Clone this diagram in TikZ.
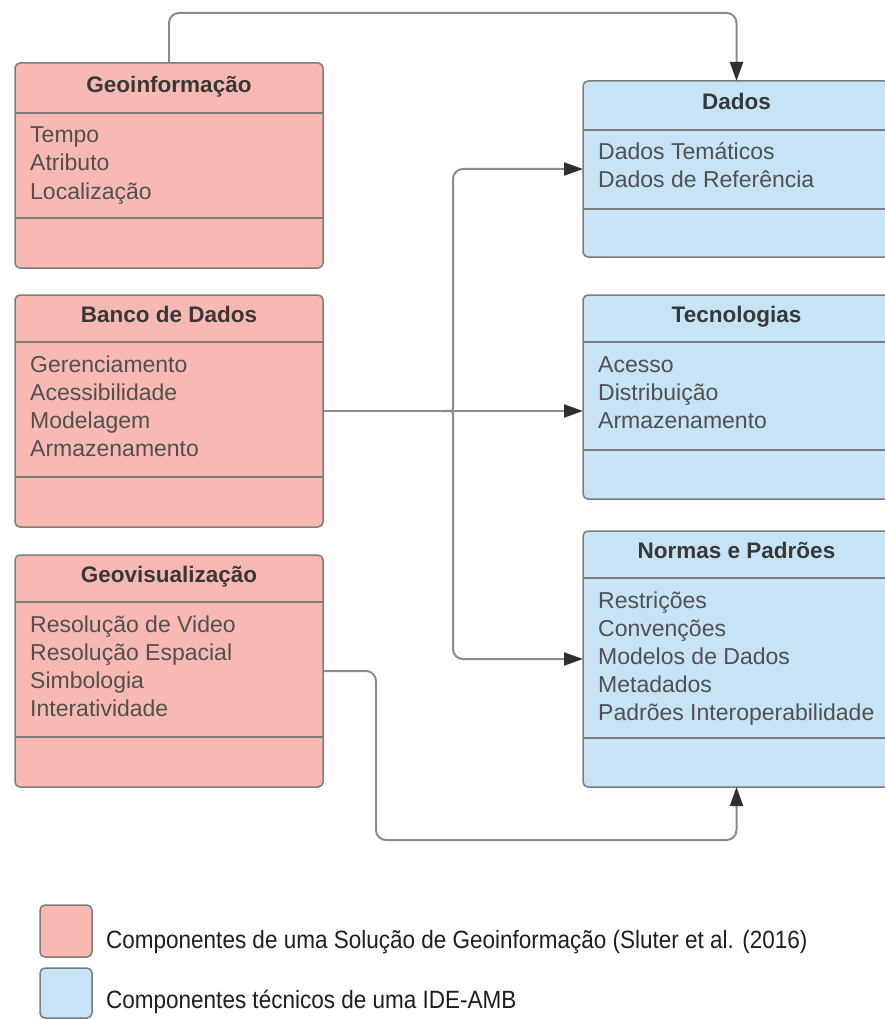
\documentclass[tikz,border=0pt]{standalone}
\usepackage{fontspec}
\setmainfont{Liberation Sans}
\newfontfamily\legendfont{Liberation Sans}[FakeStretch=0.9]
\usetikzlibrary{arrows.meta,calc}

\definecolor{geofill}{HTML}{F8B9B2}
\definecolor{idefill}{HTML}{C6E4F5}
\definecolor{edgeink}{HTML}{7C7C7C}
\definecolor{wireink}{HTML}{8A8A8A}
\definecolor{tipink}{HTML}{2E2E2E}
\definecolor{titleink}{HTML}{383838}
\definecolor{bodyink}{HTML}{505050}
\definecolor{legendink}{HTML}{1E1E1E}

\tikzset{
  classbox/.style={draw=edgeink, line width=1.5pt, rounded corners=5pt,
    inner sep=0pt, outer sep=0pt},
  geoclass/.style={fill=geofill},
  ideclass/.style={fill=idefill},
  rule/.style={draw=edgeink, line width=1.5pt},
  classtitle/.style={anchor=base, inner sep=0pt, text=titleink,
    font=\fontsize{22.5}{27}\selectfont\bfseries},
  classbody/.style={anchor=base west, inner sep=0pt, text=bodyink,
    font=\fontsize{23}{28}\selectfont},
  conn/.style={draw=wireink, line width=2pt, rounded corners=10pt},
  tipto/.style={-{Triangle[length=19pt,width=13pt,color=tipink,fill=tipink]}},
  swatch/.style={draw=edgeink, line width=1.5pt, rounded corners=5pt,
    minimum width=52pt, inner sep=0pt, outer sep=0pt},
  legendtext/.style={anchor=base west, inner sep=0pt, text=legendink,
    font=\legendfont\fontsize{25}{28}\selectfont},
}

% #1 name, #2 fill style, #3 top-left corner, #4 width, #5 height,
% #6 header height, #7 offset of the lower rule, #8 title, #9 items
\newcommand\umlclass[9]{%
  \node[classbox,#2,minimum width=#4,minimum height=#5,anchor=north west] (#1) at #3 {};
  \draw[rule] ([yshift=-#6]#1.north west) -- ([yshift=-#6]#1.north east);
  \draw[rule] ([yshift=-#7]#1.north west) -- ([yshift=-#7]#1.north east);
  \node[classtitle] (#1-title) at ([yshift=-#6+20pt]#1.north) {#8};
  \node[classbody] (#1-items) at ([xshift=15pt,yshift=-#6-30pt]#1.north west)
    {\begin{tabular}[t]{@{}l@{}}#9\end{tabular}};
}

\begin{document}
\begin{tikzpicture}[x=1pt,y=-1pt]
\useasboundingbox (0,0) rectangle (885,1019);

% left column: components of a geoinformation solution
\umlclass{geo}{geoclass}{(15,63)}{308pt}{205pt}{50pt}{155pt}{Geoinformação}
  {Tempo\\Atributo\\Localização}
\umlclass{banco}{geoclass}{(15,295)}{308pt}{232pt}{47pt}{182pt}{Banco de Dados}
  {Gerenciamento\\Acessibilidade\\Modelagem\\Armazenamento}
\umlclass{geovis}{geoclass}{(15,555)}{308pt}{232pt}{47pt}{182pt}{Geovisualização}
  {Resolução de Video\\Resolução Espacial\\Simbologia\\Interatividade}

% right column: technical components of the SDI
\umlclass{dados}{ideclass}{(583,81)}{307pt}{176pt}{49pt}{128pt}{Dados}
  {Dados Temáticos\\Dados de Referência}
\umlclass{tec}{ideclass}{(583,295)}{307pt}{204pt}{47pt}{155pt}{Tecnologias}
  {Acesso\\Distribuição\\Armazenamento}
\umlclass{normas}{ideclass}{(583,531)}{307pt}{256pt}{47pt}{207pt}{Normas e Padrões}
  {Restrições\\Convenções\\Modelos de Dados\\Metadados\\Padrões Interoperabilidade}

% connectors
\coordinate (toprail) at (450,13);
\coordinate (bottomrail) at (376,840);
\coordinate (fork) at ([xshift=119pt]banco.east);

\draw[conn,tipto] (geo.north) |- (toprail) -| (dados.north);
\draw[conn,tipto] (banco.east) -- (tec.west |- banco.east);
\draw[conn,tipto] (fork) .. controls ([xshift=11pt]fork) .. ([xshift=11pt,yshift=12pt]fork)
  |- (dados.west);
\draw[conn,tipto] (fork) .. controls ([xshift=11pt]fork) .. ([xshift=11pt,yshift=-12pt]fork)
  |- (normas.west);
\draw[conn,tipto] (geovis.east) -| (bottomrail) -| (normas.south);

% legend
\node[swatch,fill=geofill,minimum height=52pt] (keygeo) at (66,931) {};
\node[swatch,fill=idefill,minimum height=50pt] (keyide) at (66,993) {};
\node[legendtext] (keygeo-label) at (106,948)
  {Componentes de uma Solução de Geoinformação (Sluter et al. (2016)};
\node[legendtext] (keyide-label) at (106,1008)
  {Componentes técnicos de uma IDE-AMB};
\end{tikzpicture}
\end{document}
